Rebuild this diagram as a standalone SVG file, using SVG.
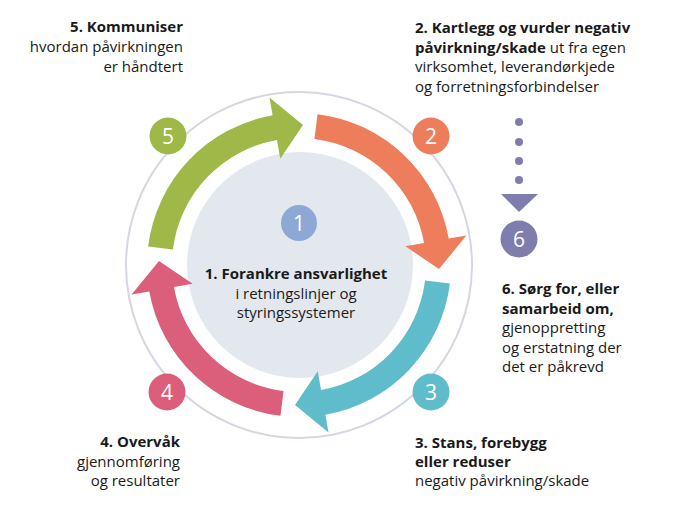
<svg xmlns="http://www.w3.org/2000/svg" width="687" height="522" viewBox="0 0 687 522">
<style>
text{font-family:"Open Sans","Noto Sans","Liberation Sans",sans-serif;font-size:15px;fill:#1a1a1a}
.b{font-weight:bold}
.num{font-size:21px;fill:#fff;text-anchor:middle}
.r{text-anchor:end}
.c{text-anchor:middle}
</style>
<defs>
<path id="arr" d="M-126.05,-15.48 L-150.87,-18.52 A152,152 0 0 1 -26.39,-149.69 L-29.52,-167.42 L4,-140 L-18.75,-106.36 L-22.05,-125.07 A127,127 0 0 0 -126.05,-15.48 Z"/>
</defs>
<rect width="687" height="522" fill="#fff"/>
<circle cx="299" cy="265" r="173" fill="none" stroke="#D3D7E1" stroke-width="2"/>
<g id="center">
<circle cx="300" cy="265" r="113" fill="#E3E7EE"/>
<circle cx="299" cy="223" r="18" fill="#8EA8D5"/>
<text class="num" x="299" y="230.5">1</text>
<text class="c b" x="296" y="279">1. Forankre ansvarlighet</text>
<text class="c" x="296" y="299">i retningslinjer og</text>
<text class="c" x="296" y="318">styringssystemer</text>
</g>
<g id="connectors">
<use href="#arr" fill="#A0B848" transform="translate(299,265)"/>
<use href="#arr" fill="#EE7D5B" transform="translate(299,265) rotate(90)"/>
<use href="#arr" fill="#5FBDCB" transform="translate(299,265) rotate(180)"/>
<use href="#arr" fill="#DB5E7B" transform="translate(299,265) rotate(270)"/>
<circle cx="519" cy="122" r="4" fill="#7E7DAD"/>
<circle cx="519" cy="142" r="4" fill="#7E7DAD"/>
<circle cx="519" cy="161" r="4" fill="#7E7DAD"/>
<circle cx="519" cy="180" r="4" fill="#7E7DAD"/>
<path d="M501,194 L538,194 L519,212 Z" fill="#7E7DAD"/>
</g>
<g id="step5">
<circle cx="168" cy="136" r="18.5" fill="#A0B848"/>
<text class="num" x="168" y="143.5">5</text>
<text class="r b" x="183" y="32">5. Kommuniser</text>
<text class="r" x="183" y="52">hvordan påvirkningen</text>
<text class="r" x="183" y="72">er håndtert</text>
</g>
<g id="step2">
<circle cx="431" cy="136" r="18.5" fill="#EE7D5B"/>
<text class="num" x="431" y="143.5">2</text>
<text class="b" x="415" y="33">2. Kartlegg og vurder negativ</text>
<text x="415" y="52.5"><tspan class="b">påvirkning/skade</tspan> ut fra egen</text>
<text x="415" y="72">virksomhet, leverandørkjede</text>
<text x="415" y="91.5">og forretningsforbindelser</text>
</g>
<g id="step3">
<circle cx="431" cy="392" r="18.5" fill="#5FBDCB"/>
<text class="num" x="431" y="399.5">3</text>
<text class="b" x="415" y="448">3. Stans, forebygg</text>
<text class="b" x="415" y="467">eller reduser</text>
<text x="415" y="486">negativ påvirkning/skade</text>
</g>
<g id="step4">
<circle cx="167" cy="392" r="18.5" fill="#DB5E7B"/>
<text class="num" x="167" y="399.5">4</text>
<text class="r b" x="180" y="447">4. Overvåk</text>
<text class="r" x="180" y="467">gjennomføring</text>
<text class="r" x="180" y="486">og resultater</text>
</g>
<g id="step6">
<circle cx="519" cy="239" r="18.5" fill="#7E7DAD"/>
<text class="num" x="519" y="246.5">6</text>
<text class="b" x="502" y="294">6. Sørg for, eller</text>
<text class="b" x="502" y="313.5">samarbeid om,</text>
<text x="502" y="333">gjenoppretting</text>
<text x="502" y="352.5">og erstatning der</text>
<text x="502" y="372">det er påkrevd</text>
</g>
</svg>
